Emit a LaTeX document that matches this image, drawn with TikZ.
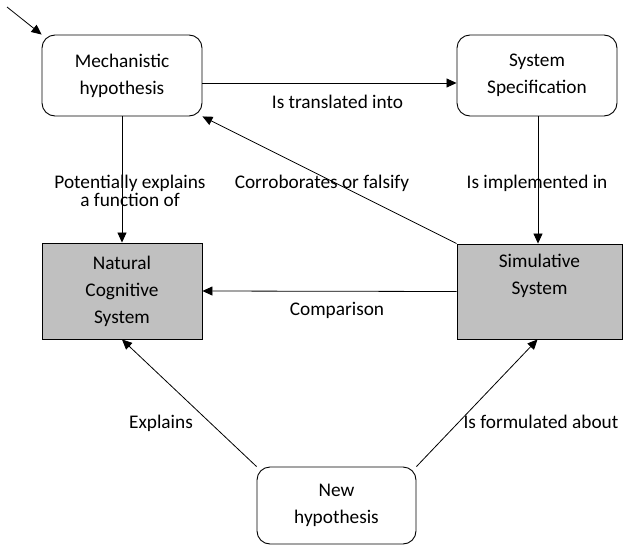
\documentclass[tikz,border=0pt]{standalone}
\usepackage{fontspec}
\setmainfont{Carlito}
\usetikzlibrary{arrows.meta}
\definecolor{boxgray}{RGB}{192,192,192}
\tikzset{
  boxtext/.style={font=\fontsize{19.3}{27}\selectfont, align=center, text=black},
  roundbox/.style={boxtext, draw=black, line width=0.9pt, rounded corners=13pt, rectangle, inner sep=0pt},
  graybox/.style={boxtext, draw=black, line width=0.9pt, fill=boxgray, rectangle, inner sep=0pt},
  conn/.style={draw=black, line width=0.8pt, -{Triangle[length=10pt,width=9pt]}},
  lbl/.style={font=\fontsize{19.3}{18.5}\selectfont, align=center, text=black, inner sep=0pt}
}
\begin{document}
\begin{tikzpicture}[x=1pt,y=-1pt]
\useasboundingbox (0,0) rectangle (632,546);
\node[roundbox, minimum width=160pt, minimum height=81pt] (mech) at (122,75.5) {Mechanistic\\hypothesis};
\node[roundbox, minimum width=160pt, minimum height=81pt] (spec) at (537,75.5) {System\\Specification};
\node[graybox, minimum width=160pt, minimum height=96pt] (nat) at (122,291) {Natural\\Cognitive\\System};
\node[graybox, minimum width=165pt, minimum height=95pt] (sim) at (539.5,291.5) {Simulative\\System\\\strut};
\node[roundbox, minimum width=159pt, minimum height=77pt] (new) at (336.5,505.5) {New\\hypothesis};
\coordinate (entry) at (7,7);

\draw[conn] (entry) -- (mech.north west);
\draw[conn] ([yshift=-7.5pt]mech.east) -- ([yshift=-7.5pt]spec.west);
\draw[conn] (mech.south) -- (nat.north);
\draw[conn] ([xshift=1pt]spec.south) -- ([xshift=1pt]spec.south |- sim.north);
\draw[conn] (sim.north west) -- (mech.south east);
\draw[conn] (sim.west) -- (nat.east);
\draw[conn] (new.north west) -- (nat.south);
\draw[conn] (new.north east) -- ([xshift=-2pt]sim.south);

\node[lbl, anchor=base] (l1) at (337.5,108) {Is translated into};
\node[lbl] (l2) at (130,191) {Potentially explains\\a function of};
\node[lbl, anchor=base] (l3) at (322,188) {Corroborates or falsify};
\node[lbl, anchor=base] (l4) at (537,188) {Is implemented in};
\node[lbl, anchor=base] (l5) at (337,315) {Comparison};
\node[lbl, anchor=base] (l6) at (161,428) {Explains};
\node[lbl, anchor=base] (l7) at (541,428) {Is formulated about};
\end{tikzpicture}
\end{document}
